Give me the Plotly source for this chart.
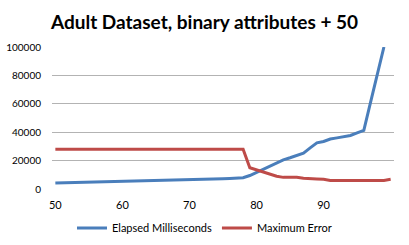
import plotly.graph_objects as go

categories = list(range(50, 101))
elapsed_ms = [4200, 4300, 4400, 4500, 4600, 4700, 4800, 4900, 5000, 5100,
              5200, 5300, 5400, 5500, 5600, 5700, 5900, 6000, 6100, 6300,
              6400, 6600, 6700, 6900, 7000, 7200, 7400, 7600, 7900, 9500,
              11800, 14000, 16200, 18500, 20500, 22000, 23500, 25300, 29000, 32500,
              33500, 35200, 36000, 36800, 37700, 39500, 41300, 61000, 81000, 100000,
              None]
max_error = [28000] * 29 + [15000, 13500, 12000, 10000, 9000, 8200, 8200, 8200, 7500, 7000,
                             7000, 6800, 6000, 6000, 6000, 6000, 6000, 6000, 6000, 6000,
                             6000, 6800]
x_ticks = [50, 60, 70, 80, 90]
y_ticks = [0, 20000, 40000, 60000, 80000, 100000]

FONT = "Lato"
fig = go.Figure()
fig.add_trace(go.Scatter(x=categories, y=elapsed_ms, mode="lines", name="Elapsed Milliseconds",
                         line=dict(color="#4a7ebb", width=3)))
fig.add_trace(go.Scatter(x=categories, y=max_error, mode="lines", name="Maximum Error",
                         line=dict(color="#be4b48", width=3)))

fig.update_layout(
    template="none",
    width=409, height=245,
    margin=dict(l=52, r=15, t=47, b=56, autoexpand=False),
    paper_bgcolor="white", plot_bgcolor="white",
    font=dict(family=FONT, size=10, color="#000000"),
    title=dict(text="<b>Adult Dataset, binary attributes + 50</b>", x=0.5, xref="container",
               xanchor="center", y=1 - 22 / 245, yanchor="middle",
               font=dict(family=FONT, size=19, color="#000000")),
    showlegend=True,
    legend=dict(orientation="h", xref="container", yref="container", x=0.5, y=(245 - 228) / 245,
                xanchor="center", yanchor="middle", font=dict(family=FONT, size=11),
                itemwidth=30, tracegroupgap=0, bgcolor="rgba(0,0,0,0)"),
    xaxis=dict(range=[49.5, 100.5], tickvals=x_ticks, showgrid=False, zeroline=False,
               showline=False, ticks="outside", ticklen=6, tickcolor="rgba(0,0,0,0)",
               automargin=False, tickfont=dict(family=FONT, size=11)),
    yaxis=dict(range=[0, 100000], tickvals=y_ticks, showgrid=True, gridcolor="#b3b3b3",
               gridwidth=1, zeroline=False, showline=False, ticks="outside", ticklen=8,
               tickcolor="rgba(0,0,0,0)", tickformat="d", automargin=False,
               tickfont=dict(family=FONT, size=10)),
)
fig.write_html("out.html", config={"displayModeBar": False, "staticPlot": True})

with open("out.html", "r", encoding="utf-8") as f:
    html = f.read()
html = html.replace("<head>", "<head><style>html,body{margin:0;padding:0;overflow:hidden;}</style>", 1)
with open("out.html", "w", encoding="utf-8") as f:
    f.write(html)
